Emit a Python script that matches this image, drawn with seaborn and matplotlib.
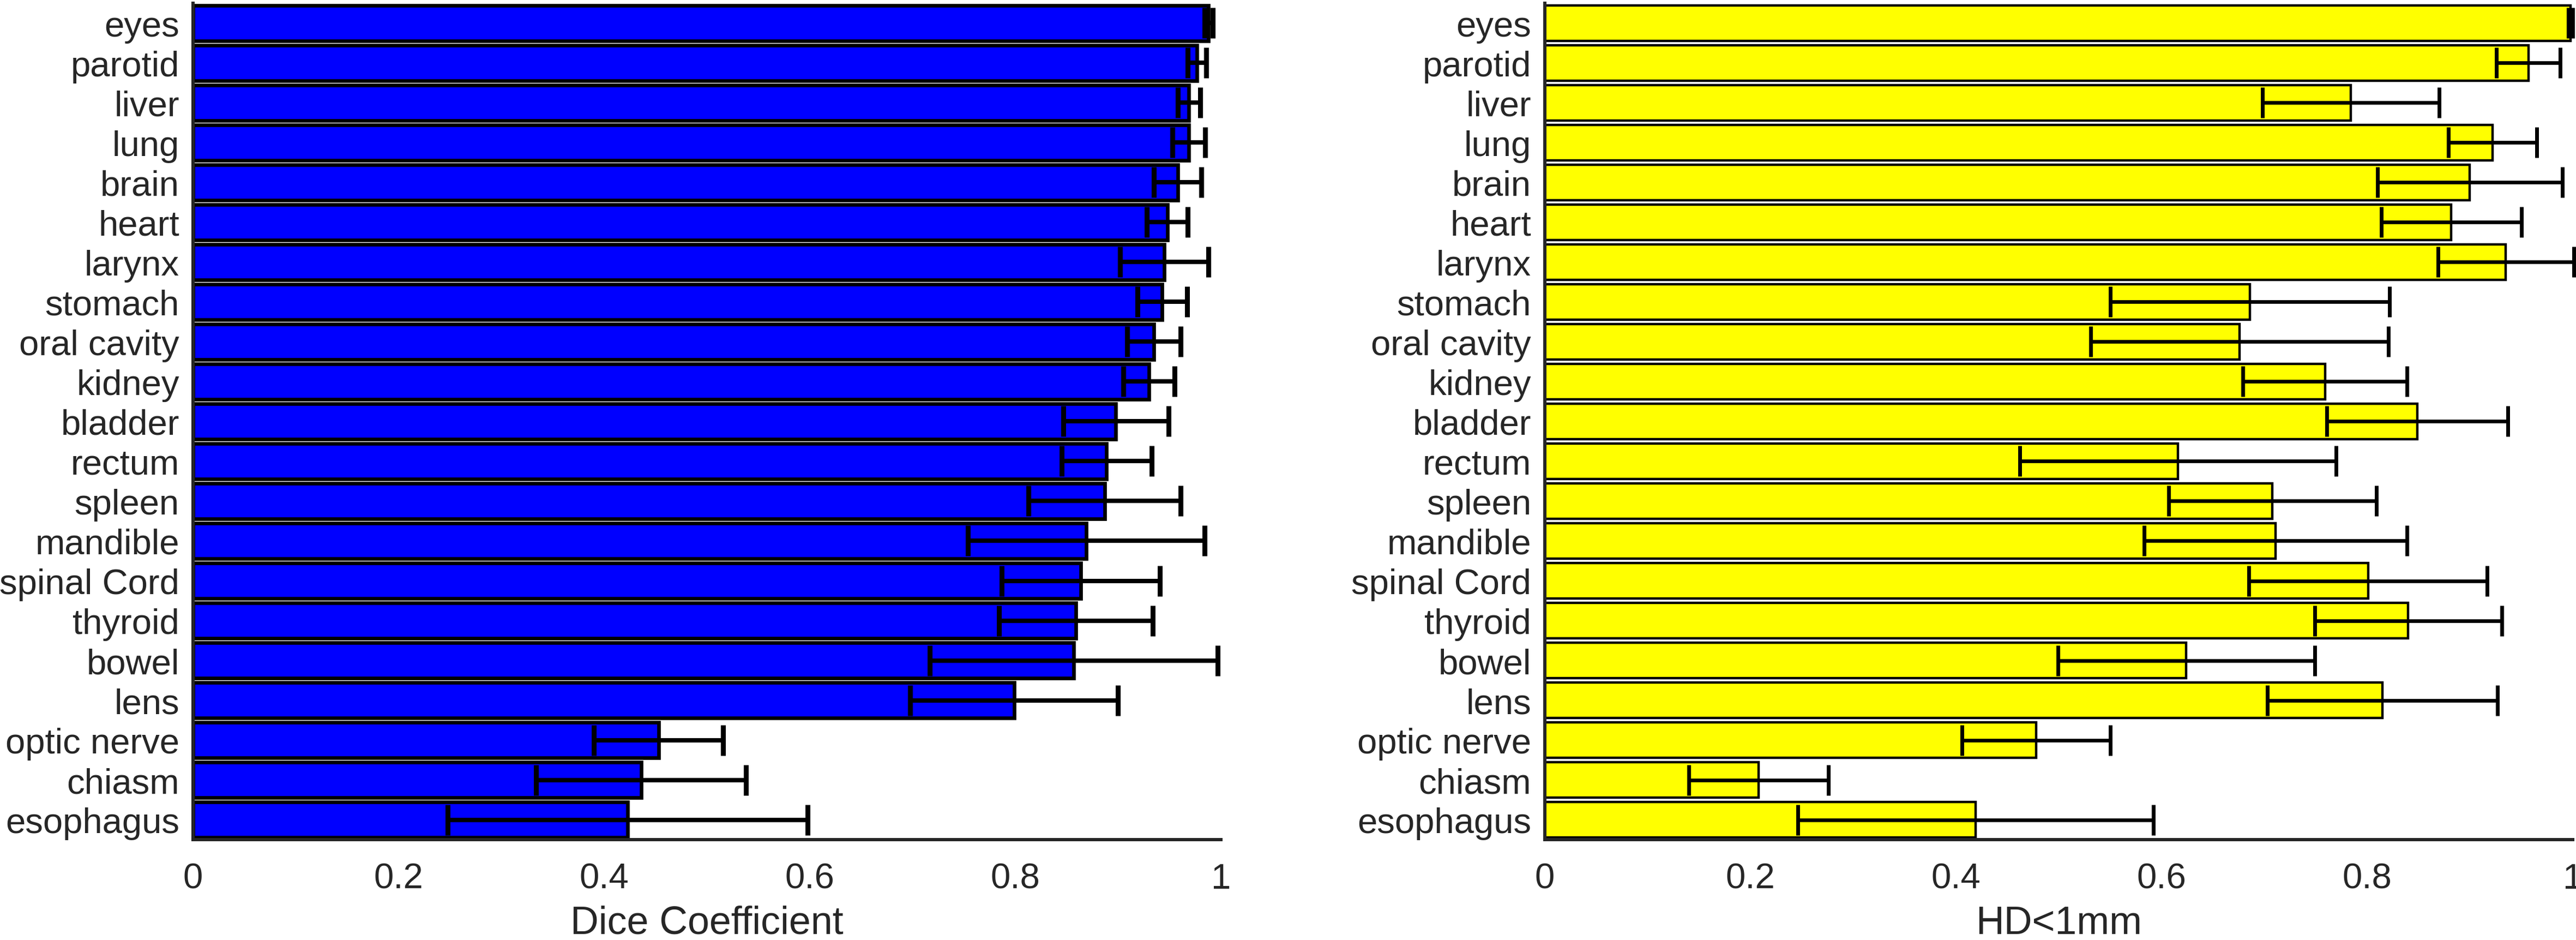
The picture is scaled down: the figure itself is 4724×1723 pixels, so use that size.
import numpy as np
import pandas as pd
import matplotlib
matplotlib.use('Agg')
import matplotlib.pyplot as plt
import seaborn as sns

# organ names, top to bottom
organs = ['eyes', 'parotid', 'liver', 'lung', 'brain', 'heart', 'larynx',
          'stomach', 'oral cavity', 'kidney', 'bladder', 'rectum', 'spleen',
          'mandible', 'spinal Cord', 'thyroid', 'bowel', 'lens',
          'optic nerve', 'chiasm', 'esophagus']

# left panel: Dice coefficient mean and error half-width
dice_mean = [0.988, 0.977, 0.969, 0.969, 0.958, 0.948, 0.945, 0.943, 0.935,
             0.930, 0.898, 0.889, 0.887, 0.869, 0.864, 0.859, 0.857, 0.799,
             0.453, 0.436, 0.423]
dice_err = [0.004, 0.009, 0.011, 0.016, 0.023, 0.020, 0.043, 0.024, 0.026,
            0.025, 0.051, 0.044, 0.074, 0.115, 0.077, 0.075, 0.140, 0.101,
            0.063, 0.102, 0.175]

# right panel: fraction with HD < 1mm, mean and error half-width
hd_mean = [0.998, 0.957, 0.784, 0.922, 0.900, 0.882, 0.935, 0.686, 0.676,
           0.759, 0.849, 0.616, 0.708, 0.711, 0.801, 0.840, 0.624, 0.815,
           0.478, 0.208, 0.419]
hd_err = [0.002, 0.031, 0.086, 0.043, 0.090, 0.068, 0.066, 0.136, 0.145,
          0.080, 0.088, 0.154, 0.101, 0.128, 0.116, 0.091, 0.125, 0.112,
          0.072, 0.068, 0.173]

xticks = [0, 0.2, 0.4, 0.6, 0.8, 1]
xticklabels = ['0', '0.2', '0.4', '0.6', '0.8', '1']

sns.set_style('white')
plt.rcParams['font.family'] = ['Liberation Sans', 'DejaVu Sans']

df = pd.DataFrame({'organ': organs, 'dice': dice_mean, 'hd': hd_mean})

fig = plt.figure(figsize=(47.24, 17.24), dpi=100)
ax1 = fig.add_axes([0.0749, 0.1067, 0.399, 0.8893])
ax2 = fig.add_axes([0.5997, 0.1067, 0.399, 0.8893])

axis_col = '#262626'
# axis, column, errors, fill, x label, edge width, error width, cap width
panels = [(ax1, 'dice', dice_err, '#0000FF', 'Dice Coefficient', 4.8, 5.8, 6.5),
          (ax2, 'hd', hd_err, '#FFFF00', 'HD<1mm', 3.2, 4.8, 5.0)]

for ax, col, err, colour, label, lw, elw, cth in panels:
    sns.barplot(data=df, x=col, y='organ', orient='h', color=colour,
                saturation=1, edgecolor='black', linewidth=lw, width=0.9,
                errorbar=None, ax=ax)
    # error bars drawn on the same categorical positions
    ax.errorbar(df[col], np.arange(len(organs)), xerr=err, fmt='none',
                ecolor='black', elinewidth=elw, capsize=20, capthick=cth,
                zorder=5, clip_on=False)
    ax.set_xlim(0, 1)
    ax.set_ylim(len(organs) - 0.5, -0.5)
    ax.set_xticks(xticks)
    ax.set_xticklabels(xticklabels)
    ax.set_ylabel('')
    ax.set_xlabel(label, fontsize=51.7, color=axis_col, labelpad=13)
    sns.despine(ax=ax)
    for side in ['left', 'bottom']:
        ax.spines[side].set_linewidth(4.3)
        ax.spines[side].set_color(axis_col)
    ax.tick_params(axis='x', direction='in', length=13, width=4.3,
                   color=axis_col, labelsize=47, labelcolor=axis_col, pad=30)
    ax.tick_params(axis='y', length=0, labelsize=47, labelcolor=axis_col,
                   pad=18)

fig.savefig('out.png', dpi=100)
